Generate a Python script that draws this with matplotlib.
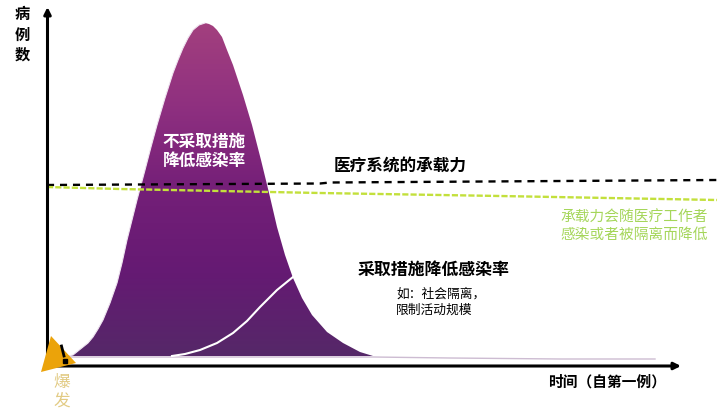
import matplotlib.pyplot as plt
import numpy as np
from matplotlib.colors import to_rgb
from matplotlib.patches import Polygon

# ------------------------------------------------------------
# Flatten-the-curve sketch, values
# (axis units are the picture's own pixels, y grows downward)
# ------------------------------------------------------------

plt.rcParams["font.family"] = ["Noto Sans CJK SC", "DejaVu Sans"]

peak_x = [68, 73, 78, 83, 88, 93, 98, 103, 110, 117, 122, 127, 132, 137, 145, 151, 157, 165,
          173, 178, 183, 188, 193, 199, 205, 209, 213, 217, 222, 227, 233, 243, 252, 261, 270,
          277, 285, 293, 302, 312, 327, 343, 360, 373]
peak_y = [356, 355, 351, 347, 343, 337, 329, 320, 303, 283, 263, 240, 220, 200, 170, 147, 125, 98,
          73, 60, 48, 38, 30, 25, 23, 24, 26, 30, 37, 50, 65, 95, 125, 160, 197,
          227, 255, 278, 298, 315, 332, 343, 352, 356]

tail_x = [373, 450, 560, 655]
tail_y = [357, 358, 359, 359]

low_x = [172, 185, 200, 217, 233, 247, 260, 277, 293]
low_y = [356, 354, 350, 343, 333, 321, 307, 290, 277]

capacity_x = [47, 320, 330, 717]
capacity_y = [185, 183.5, 182.5, 180]

falling_x = [47, 120, 320, 500, 717]
falling_y = [187, 189, 193, 196, 200]

y_label_chars = ["病", "例", "数"]
burst_chars = ["爆", "发"]

gradient_colors = ["#a3407e", "#8f3080", "#741f78", "#651a73", "#552868"]

fig = plt.figure(figsize=(7.27, 4.18), dpi=100)
ax = fig.add_axes([0, 0, 1, 1])
ax.axis("off")

# peak area with a vertical gradient clipped to the curve
rgb = np.array([to_rgb(c) for c in gradient_colors])
levels = np.linspace(0, 1, 256)
ramp = np.stack([np.interp(levels, np.linspace(0, 1, len(rgb)), rgb[:, i]) for i in range(3)], axis=1)
image = ax.imshow(ramp[:, None, :], extent=[40, 680, 357, 22], aspect="auto", zorder=1)
ax.set_xlim(0, 727)
ax.set_ylim(418, 0)
outline = Polygon(list(zip(peak_x, peak_y)), closed=True, facecolor="none", edgecolor="none")
ax.add_patch(outline)
image.set_clip_path(outline)

ax.plot(peak_x[:25], peak_y[:25], color="#efe4f0", linewidth=0.8, zorder=2)
ax.plot(peak_x[:1] + tail_x, [357] + tail_y, color="#cdbcd2", linewidth=1.0, zorder=2)
ax.plot(low_x, low_y, color="white", linewidth=1.5, zorder=3)

# capacity lines
ax.plot(capacity_x, capacity_y, color="black", linewidth=1.7, dashes=(3.0, 2.5), zorder=4)
ax.plot(falling_x, falling_y, color="#c3e03c", linewidth=1.7, dashes=(2.6, 0.9), zorder=4)

# axes with arrow heads
arrow_style = dict(arrowstyle="-|>,head_width=0.2,head_length=0.4", color="black",
                   linewidth=2.2, shrinkA=0, shrinkB=0)
ax.annotate("", xy=(47.5, 7), xytext=(47.5, 367), arrowprops=arrow_style, zorder=5)
ax.annotate("", xy=(681, 366), xytext=(46, 366), arrowprops=arrow_style, zorder=5)

# outbreak warning sign
ax.add_patch(Polygon([(51, 336), (41, 372), (76, 363)], closed=True, facecolor="#eba30a",
                     edgecolor="none", zorder=6))
ax.plot([61.5, 64], [346, 356], color="black", linewidth=2.0, zorder=7)
ax.plot([65], [361], marker="s", markersize=2.4, color="black", zorder=7)

# texts
for i, ch in enumerate(y_label_chars):
    ax.text(22.5, 14 + i * 20.5, ch, fontsize=11, fontweight="bold", ha="center", va="center", color="black")
for i, ch in enumerate(burst_chars):
    ax.text(62, 382 + i * 19.5, ch, fontsize=12, ha="center", va="center", color="#e2cb84")

ax.text(204, 142, "不采取措施", fontsize=12, fontweight="bold", ha="center", va="center", color="white", zorder=6)
ax.text(204, 161, "降低感染率", fontsize=12, fontweight="bold", ha="center", va="center", color="white", zorder=6)
ax.text(400, 166, "医疗系统的承载力", fontsize=12, fontweight="bold", ha="center", va="center", color="black")
ax.text(434, 270, "采取措施降低感染率", fontsize=12.2, fontweight="bold", ha="center", va="center", color="black")
ax.text(396, 294, "如\uff1a社会隔离\uff0c", fontsize=9.2, ha="left", va="center", color="black")
ax.text(396, 310, "限制活动规模", fontsize=9.2, ha="left", va="center", color="black")
ax.text(708, 218, "承载力会随医疗工作者", fontsize=10.6, ha="right", va="center", color="#a5d65a")
ax.text(708, 235, "感染或者被隔离而降低", fontsize=10.6, ha="right", va="center", color="#a5d65a")
ax.text(607, 382, "时间\uff08自第一例\uff09", fontsize=10.6, fontweight="bold", ha="center", va="center", color="black")

fig.savefig("out.png", dpi=100)
plt.close(fig)
